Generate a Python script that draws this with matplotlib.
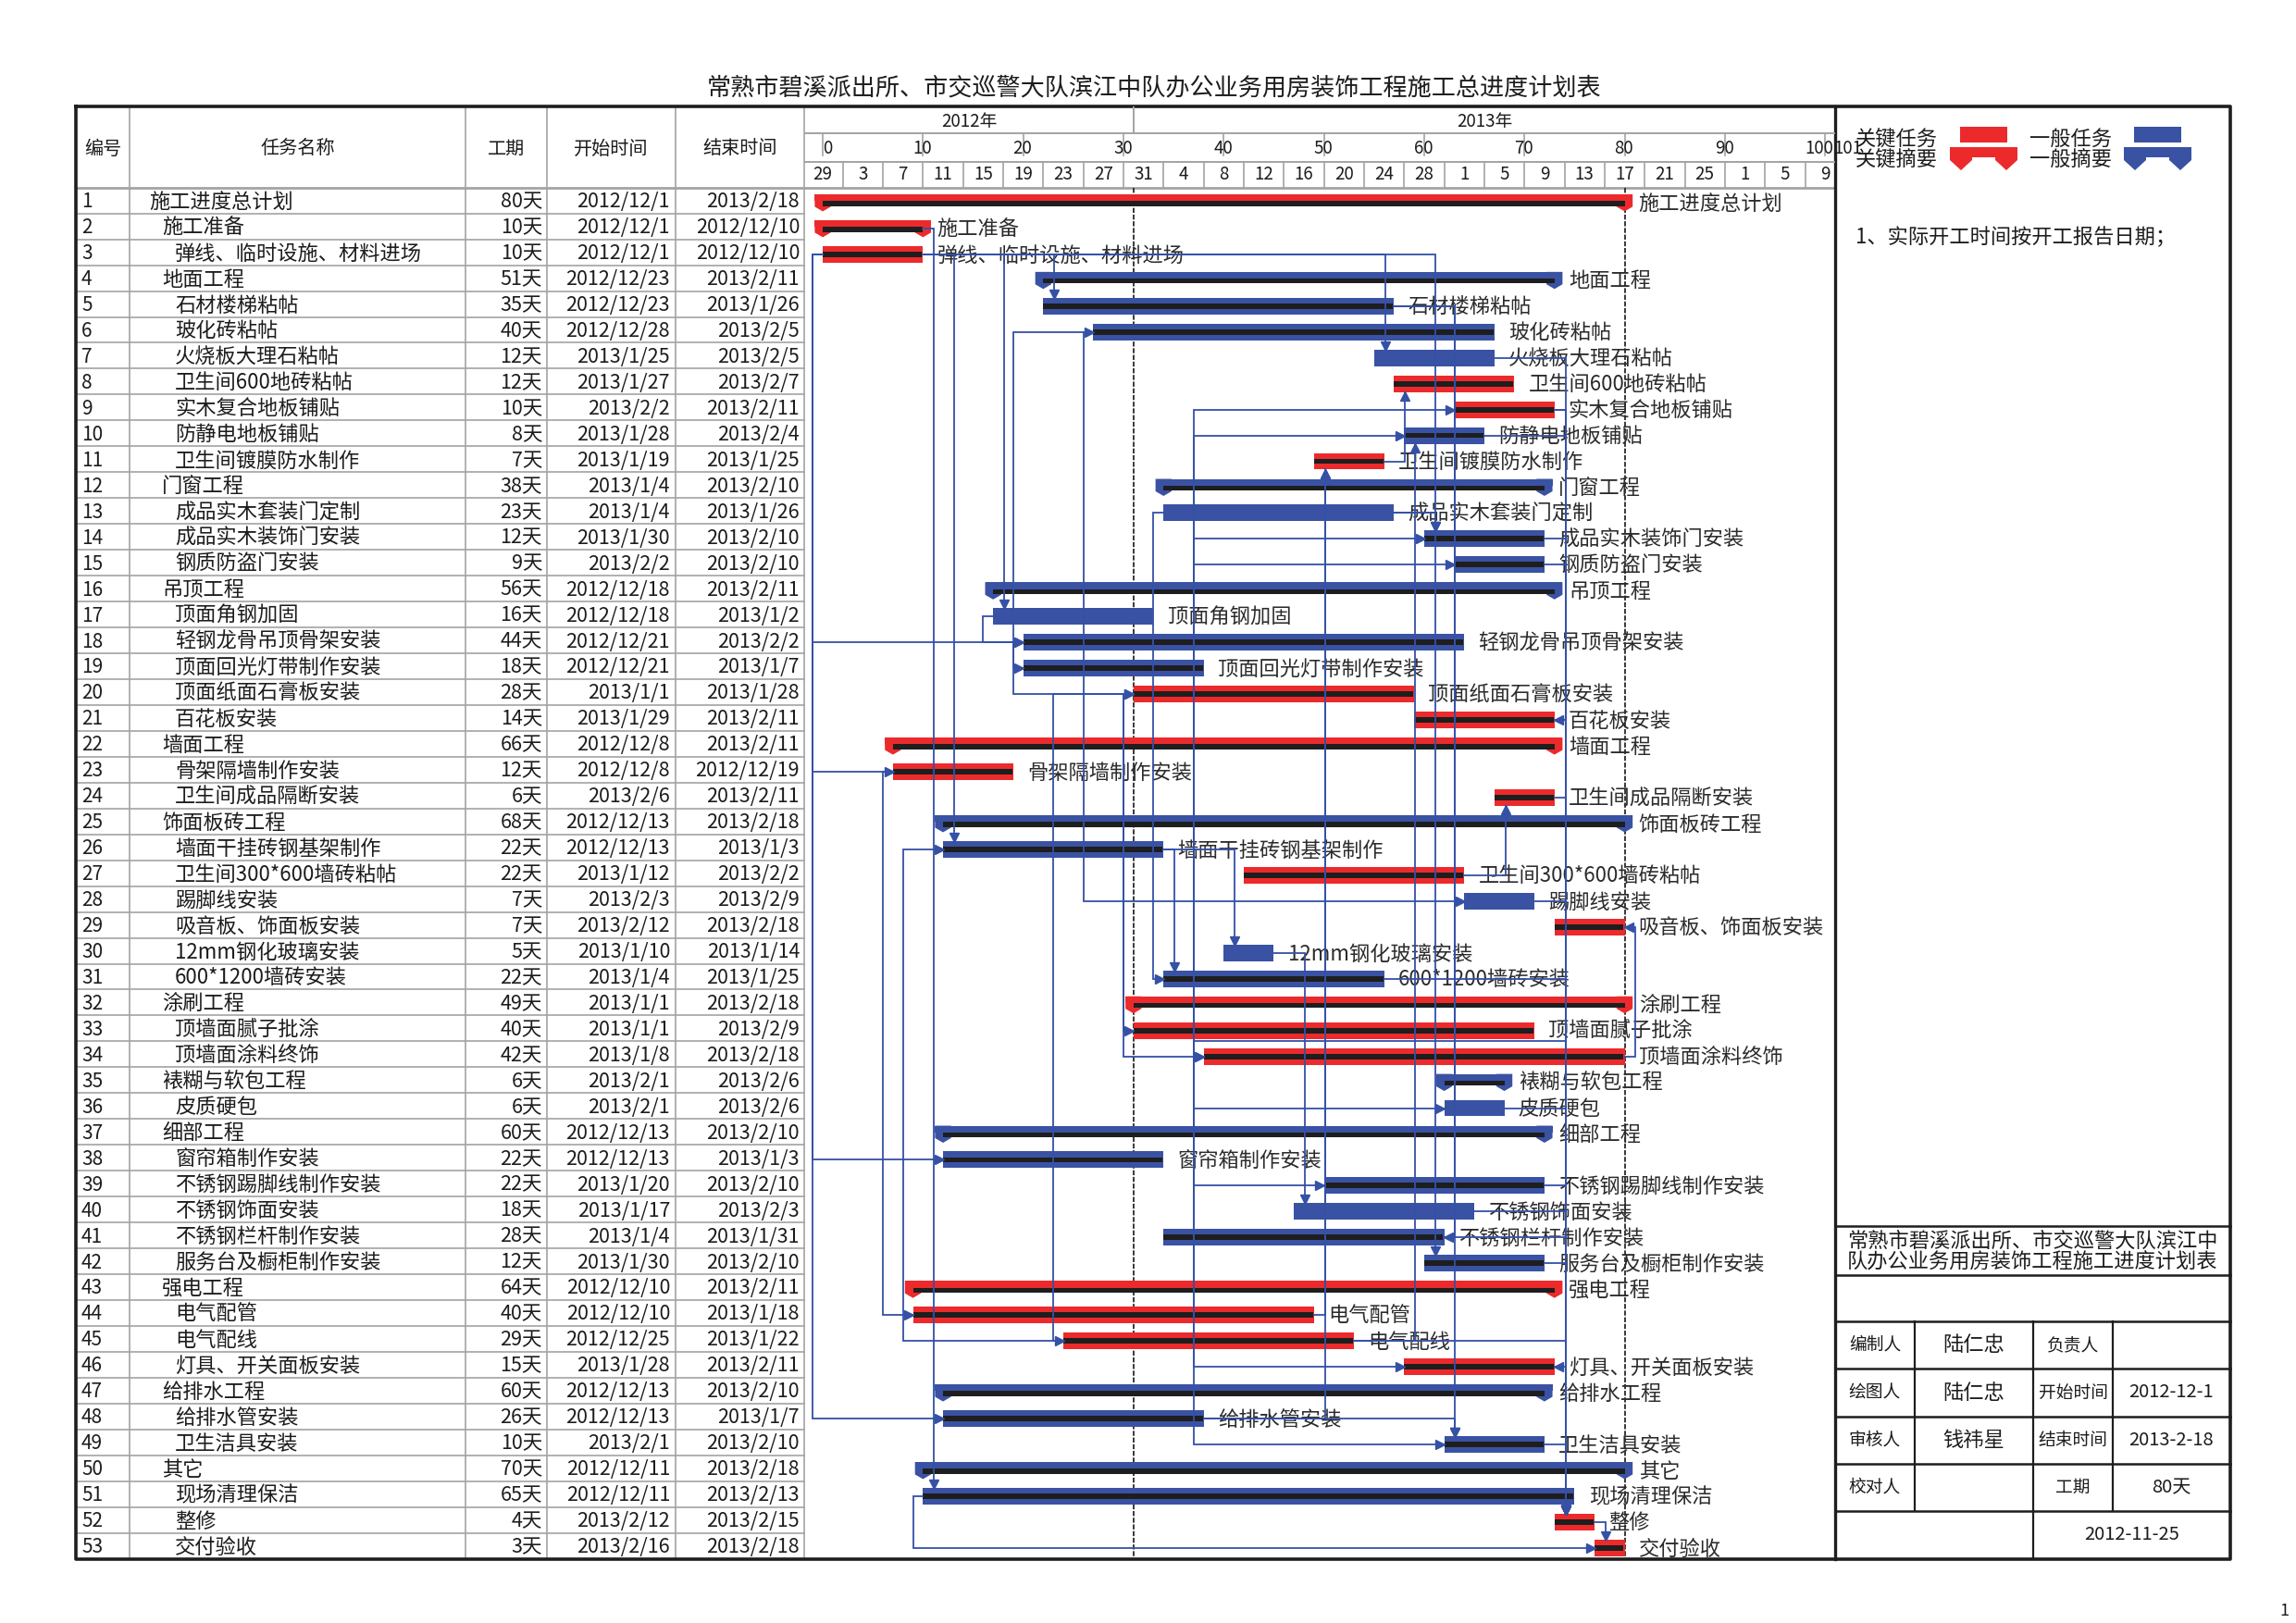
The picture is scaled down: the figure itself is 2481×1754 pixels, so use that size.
import matplotlib
matplotlib.use('Agg')
import matplotlib.pyplot as plt
from matplotlib.patches import Polygon, Rectangle
from datetime import date

plt.rcParams['font.family'] = ['Noto Sans CJK SC', 'DejaVu Sans']

title = '常熟市碧溪派出所、市交巡警大队滨江中队办公业务用房装饰工程施工总进度计划表'
col_heads = ['编号', '任务名称', '工期', '开始时间', '结束时间']

task_names = ['施工进度总计划', '施工准备', '弹线、临时设施、材料进场', '地面工程', '石材楼梯粘帖',
              '玻化砖粘帖', '火烧板大理石粘帖', '卫生间600地砖粘帖', '实木复合地板铺贴', '防静电地板铺贴',
              '卫生间镀膜防水制作', '门窗工程', '成品实木套装门定制', '成品实木装饰门安装', '钢质防盗门安装',
              '吊顶工程', '顶面角钢加固', '轻钢龙骨吊顶骨架安装', '顶面回光灯带制作安装', '顶面纸面石膏板安装',
              '百花板安装', '墙面工程', '骨架隔墙制作安装', '卫生间成品隔断安装', '饰面板砖工程',
              '墙面干挂砖钢基架制作', '卫生间300*600墙砖粘帖', '踢脚线安装', '吸音板、饰面板安装', '12mm钢化玻璃安装',
              '600*1200墙砖安装', '涂刷工程', '顶墙面腻子批涂', '顶墙面涂料终饰', '裱糊与软包工程',
              '皮质硬包', '细部工程', '窗帘箱制作安装', '不锈钢踢脚线制作安装', '不锈钢饰面安装',
              '不锈钢栏杆制作安装', '服务台及橱柜制作安装', '强电工程', '电气配管', '电气配线',
              '灯具、开关面板安装', '给排水工程', '给排水管安装', '卫生洁具安装', '其它',
              '现场清理保洁', '整修', '交付验收']
levels = [0, 1, 2, 1, 2, 2, 2, 2, 2, 2, 2, 1, 2, 2, 2, 1, 2, 2, 2, 2, 2, 1, 2, 2, 1, 2, 2,
          2, 2, 2, 2, 1, 2, 2, 1, 2, 1, 2, 2, 2, 2, 2, 1, 2, 2, 2, 1, 2, 2, 1, 2, 2, 2]
durations = [80, 10, 10, 51, 35, 40, 12, 12, 10, 8, 7, 38, 23, 12, 9, 56, 16, 44, 18, 28, 14,
             66, 12, 6, 68, 22, 22, 7, 7, 5, 22, 49, 40, 42, 6, 6, 60, 22, 22, 18, 28, 12, 64,
             40, 29, 15, 60, 26, 10, 70, 65, 4, 3]
start_dates = ['2012/12/1', '2012/12/1', '2012/12/1', '2012/12/23', '2012/12/23', '2012/12/28',
               '2013/1/25', '2013/1/27', '2013/2/2', '2013/1/28', '2013/1/19', '2013/1/4', '2013/1/4',
               '2013/1/30', '2013/2/2', '2012/12/18', '2012/12/18', '2012/12/21', '2012/12/21',
               '2013/1/1', '2013/1/29', '2012/12/8', '2012/12/8', '2013/2/6', '2012/12/13',
               '2012/12/13', '2013/1/12', '2013/2/3', '2013/2/12', '2013/1/10', '2013/1/4', '2013/1/1',
               '2013/1/1', '2013/1/8', '2013/2/1', '2013/2/1', '2012/12/13', '2012/12/13', '2013/1/20',
               '2013/1/17', '2013/1/4', '2013/1/30', '2012/12/10', '2012/12/10', '2012/12/25',
               '2013/1/28', '2012/12/13', '2012/12/13', '2013/2/1', '2012/12/11', '2012/12/11',
               '2013/2/12', '2013/2/16']
end_dates = ['2013/2/18', '2012/12/10', '2012/12/10', '2013/2/11', '2013/1/26', '2013/2/5',
             '2013/2/5', '2013/2/7', '2013/2/11', '2013/2/4', '2013/1/25', '2013/2/10', '2013/1/26',
             '2013/2/10', '2013/2/10', '2013/2/11', '2013/1/2', '2013/2/2', '2013/1/7', '2013/1/28',
             '2013/2/11', '2013/2/11', '2012/12/19', '2013/2/11', '2013/2/18', '2013/1/3', '2013/2/2',
             '2013/2/9', '2013/2/18', '2013/1/14', '2013/1/25', '2013/2/18', '2013/2/9', '2013/2/18',
             '2013/2/6', '2013/2/6', '2013/2/10', '2013/1/3', '2013/2/10', '2013/2/3', '2013/1/31',
             '2013/2/10', '2013/2/11', '2013/1/18', '2013/1/22', '2013/2/11', '2013/2/10', '2013/1/7',
             '2013/2/10', '2013/2/18', '2013/2/13', '2013/2/15', '2013/2/18']
critical = [1, 1, 1, 0, 0, 0, 0, 1, 1, 0, 1, 0, 0, 0, 0, 0, 0, 0, 0, 1, 1, 1, 1, 1, 0, 0, 1,
            0, 1, 0, 0, 1, 1, 1, 0, 0, 0, 0, 0, 0, 0, 0, 1, 1, 1, 1, 0, 0, 0, 0, 0, 1, 1]
no_stripe = [7, 13, 17, 28, 30, 36, 40]

# links (predecessor, successor), numbered as in the table
ss_links = [(3, 18), (3, 23), (3, 38), (3, 48), (17, 18), (18, 6), (18, 19), (18, 20), (23, 44),
            (44, 26), (44, 45), (45, 20), (6, 28), (13, 31), (20, 33), (20, 34), (34, 9), (34, 10),
            (34, 14), (34, 15), (34, 36), (34, 39), (34, 46), (34, 49), (51, 53)]
fs_links = [(2, 51), (3, 5), (3, 7), (3, 14), (3, 17), (3, 26), (13, 14), (13, 42), (11, 8),
            (44, 11), (45, 10), (48, 11), (48, 49), (5, 49), (26, 30), (26, 31), (30, 40), (27, 24),
            (21, 34), (7, 52), (9, 52), (10, 52), (14, 52), (15, 52), (24, 52), (28, 52), (31, 52),
            (36, 52), (39, 52), (40, 52), (41, 52), (42, 52), (45, 52), (49, 52), (52, 53)]
ff_links = [(9, 21), (9, 46), (5, 41), (34, 29)]

year_labels = ['2012年', '2013年']
num_ticks = [0, 10, 20, 30, 40, 50, 60, 70, 80, 90, 100]
day_labels = ['29', '3', '7', '11', '15', '19', '23', '27', '31', '4', '8', '12', '16', '20',
              '24', '28', '1', '5', '9', '13', '17', '21', '25', '1', '5', '9']

legend_items = [('关键任务', '关键摘要', '#ec2a2c'), ('一般任务', '一般摘要', '#3a52a3')]
note = '1、实际开工时间按开工报告日期；'
box_title = ['常熟市碧溪派出所、市交巡警大队滨江中', '队办公业务用房装饰工程施工进度计划表']
box_rows = [['编制人', '陆仁忠', '负责人', ''],
            ['绘图人', '陆仁忠', '开始时间', '2012-12-1'],
            ['审核人', '钱祎星', '结束时间', '2013-2-18'],
            ['校对人', '', '工期', '80天']]
box_date = '2012-11-25'

RED = '#ec2a2c'
BLUE = '#3a52a3'
LINK = '#3451a6'
BLK = '#1e1e1e'
GRID = '#a3a3a3'
TXT = '#1c1c1c'


def to_day(s):
    y, m, d = [int(v) for v in s.split('/')]
    return (date(y, m, d) - date(2012, 12, 1)).days


starts = [to_day(s) for s in start_dates]
ends = [to_day(s) + 1 for s in end_dates]
n = len(task_names)

W, H = 2481, 1754
fig = plt.figure(figsize=(W / 100, H / 100), dpi=100)
page = fig.add_axes([0, 0, 1, 1])
page.set_xlim(0, W)
page.set_ylim(H, 0)
page.axis('off')

# layout in pixels
L, R, TOP = 82, 2410, 115
HB = 202.7
RH = 27.96
BOT = HB + n * RH
cols = [82, 140, 503, 591, 730, 869]
CR = 1983
x_lo, x_hi = -1.85, 101.0


def rect(x0, y0, x1, y1):
    return [x0 / W, 1 - y1 / H, (x1 - x0) / W, (y1 - y0) / H]


def row_y(i):
    return HB + (i - 0.5) * RH


# title
page.text(1247, 95, title, fontsize=18.8, ha='center', va='center', color=TXT)

# table grid
for k in range(1, n):
    page.plot([L, cols[-1]], [HB + k * RH] * 2, color=GRID, lw=1.2, zorder=1)
page.plot([L, CR], [HB, HB], color=GRID, lw=2.0, zorder=1)
for x in cols[1:]:
    page.plot([x, x], [TOP, BOT], color=GRID, lw=1.2, zorder=1)

# header labels
for j, h in enumerate(col_heads):
    page.text((cols[j] + cols[j + 1]) / 2, 161, h, fontsize=14.5, ha='center', va='center', color=TXT)

# table body
for i in range(n):
    y = row_y(i + 1) + 1.5
    page.text(88, y, str(i + 1), fontsize=15, ha='left', va='center', color=TXT)
    page.text(161 + levels[i] * 14, y, task_names[i], fontsize=16, ha='left', va='center', color=TXT)
    page.text(586, y, f'{durations[i]}天', fontsize=15.5, ha='right', va='center', color=TXT)
    page.text(724, y, start_dates[i], fontsize=15.5, ha='right', va='center', color=TXT)
    page.text(864, y, end_dates[i], fontsize=15.5, ha='right', va='center', color=TXT)

# outer border and panel divider
page.plot([L, R, R, L, L], [TOP, TOP, BOT, BOT, TOP], color=BLK, lw=2.6, zorder=5)
page.plot([CR, CR], [TOP, BOT], color=BLK, lw=2.4, zorder=5)

# ---- time scale header ----
head = fig.add_axes(rect(cols[-1], TOP, CR, HB), zorder=2)
head.set_xlim(x_lo, x_hi)
head.set_ylim(HB, TOP)
head.axis('off')
year_split = (date(2013, 1, 1) - date(2012, 12, 1)).days
head.plot([x_lo, x_hi], [144, 144], color=GRID, lw=1.4)
head.plot([x_lo, x_hi], [175, 175], color=GRID, lw=1.4)
head.plot([year_split, year_split], [TOP, 144], color=GRID, lw=1.4)
for lab, (a, b) in zip(year_labels, [(x_lo, year_split), (year_split, x_hi)]):
    head.text((a + b) / 2, 131, lab, fontsize=13.5, ha='center', va='center', color=TXT)
for t in num_ticks:
    head.plot([t, t], [144, 168], color=GRID, lw=1.2)
    digits = len(str(t))
    head.annotate(str(t), (t, 160), xytext=(-(digits - 1) * 7.9, 0), textcoords='offset points',
                  fontsize=13.5, ha='left', va='center', color=TXT)
head.annotate(str(num_ticks[-1] + 1), (x_hi, 160), xytext=(-1, 0), textcoords='offset points',
              fontsize=13.5, ha='left', va='center', color=TXT, annotation_clip=False)
for k, lab in enumerate(day_labels):
    a = -2 + 4 * k
    if a > x_lo:
        head.plot([a, a], [175, HB], color=GRID, lw=1.2)
    head.text(a + 2, 189, lab, fontsize=13.5, ha='center', va='center', color=TXT, clip_on=True)

# ---- gantt area ----
gantt = fig.add_axes(rect(cols[-1], HB, CR, BOT), zorder=3)
gantt.set_xlim(x_lo, x_hi)
gantt.set_ylim(n + 0.5, 0.5)
gantt.axis('off')

finish = ends[0]
for d in (year_split, finish):
    gantt.plot([d, d], [0.5, n + 0.5], color='#2a2a2a', lw=1.3, ls=(0, (3, 1)), zorder=1)

cap = 0.8
for i in range(n):
    r = i + 1
    col = RED if critical[i] else BLUE
    s, e = starts[i], ends[i]
    if levels[i] < 2:
        gantt.barh(r - 0.11, e - s + 2 * cap, left=s - cap, height=0.26, color=col, lw=0, zorder=2)
        for c in (s, e):
            gantt.add_patch(Polygon([(c - cap, r - 0.24), (c + cap, r - 0.24), (c + cap, r + 0.24),
                                     (c, r + 0.42), (c - cap, r + 0.24)], closed=True,
                                    facecolor=col, lw=0, zorder=2))
        gantt.barh(r + 0.115, e - s, left=s, height=0.19, color=BLK, lw=0, zorder=3)
    else:
        gantt.barh(r + 0.08, e - s, left=s, height=0.64, color=col, lw=0, zorder=2)
        if r not in no_stripe:
            gantt.barh(r + 0.08, e - s - 0.1, left=s, height=0.21, color=BLK, lw=0, zorder=3)
    gantt.text(e + 1.4, r + 0.12, task_names[i], fontsize=16, ha='left', va='center',
               color='#2b2b2b', clip_on=False, zorder=3)

# ---- link lines ----
off = 1.1
ax_half = 0.4
ay_half = 0.15


def line(xs, ys):
    gantt.plot(xs, ys, color=LINK, lw=1.3, zorder=4, solid_joinstyle='miter', clip_on=False)


def arrow(x, y, m):
    gantt.plot([x], [y], marker=m, ms=7.5, color=LINK, mec=LINK, zorder=5, clip_on=False)


for p, s in fs_links:
    yp, ys = p + 0.08, s + 0.08
    ep, ss_ = ends[p - 1], starts[s - 1]
    if ss_ >= ep:
        xa = ss_ + off
        if s > p:
            tip = s - 0.24
            line([ep, xa, xa], [yp, yp, tip])
            arrow(xa, tip - ay_half, 'v')
        else:
            tip = s + 0.40
            line([ep, xa, xa], [yp, yp, tip])
            arrow(xa, tip + ay_half, '^')
    else:
        xa = ep + off
        xb = ss_ - 1.0
        yb = s - 0.5 if s > p else s + 0.5
        line([ep, xa, xa, xb, xb, ss_], [yp, yp, yb, yb, ys, ys])
        arrow(ss_ - ax_half, ys, '>')

for p, s in ss_links:
    yp, ys = p + 0.08, s + 0.08
    sp, ss_ = starts[p - 1], starts[s - 1]
    xv = sp - 1.0
    line([sp, xv, xv, ss_], [yp, yp, ys, ys])
    arrow(ss_ - ax_half, ys, '>')

for p, s in ff_links:
    yp, ys = p + 0.08, s + 0.08
    ep, es = ends[p - 1], ends[s - 1]
    xv = max(ep, es) + off
    line([ep, xv, xv, es], [yp, yp, ys, ys])
    arrow(es + ax_half, ys, '<')

# ---- right panel ----
lx = 2005
for k, (t1, t2, c) in enumerate(legend_items):
    x0 = lx + k * 188
    page.text(x0, 150, t1, fontsize=16, ha='left', va='center', color=TXT)
    page.text(x0, 172, t2, fontsize=16, ha='left', va='center', color=TXT)
    rx = x0 + 113
    page.add_patch(Rectangle((rx, 137), 51, 17, facecolor=c, lw=0))
    sx0, sx1 = rx - 11, rx + 62
    page.add_patch(Rectangle((sx0, 159), sx1 - sx0, 11, facecolor=c, lw=0))
    for cx in (sx0 + 12, sx1 - 12):
        page.add_patch(Polygon([(cx - 12, 159), (cx + 12, 159), (cx + 12, 173), (cx, 184),
                                (cx - 12, 173)], closed=True, facecolor=c, lw=0))
page.text(lx, 257, note, fontsize=16, ha='left', va='center', color=TXT)

bx = [CR, 2069, 2197, 2283, R]
by = [1325, 1378, 1428, 1479, 1531, 1582, 1633, BOT]
for yy in by[:-1]:
    page.plot([CR, R], [yy, yy], color=BLK, lw=1.8, zorder=5)
for yy, t in zip([1341, 1364], box_title):
    page.text((CR + R) / 2, yy, t, fontsize=16, ha='center', va='center', color=TXT)
for x in bx[1:4]:
    page.plot([x, x], [by[2], by[6]], color=BLK, lw=1.6, zorder=5)
page.plot([bx[2], bx[2]], [by[6], BOT], color=BLK, lw=1.6, zorder=5)
sizes = [13.5, 16, 13.5, 14.5]
for j, rowvals in enumerate(box_rows):
    yc = (by[2 + j] + by[3 + j]) / 2
    for k, v in enumerate(rowvals):
        page.text((bx[k] + bx[k + 1]) / 2, yc, v, fontsize=sizes[k], ha='center', va='center',
                  color=TXT)
page.text((bx[2] + R) / 2, (by[6] + BOT) / 2, box_date, fontsize=14.5, ha='center', va='center',
          color=TXT)
page.text(2468, 1741, '1', fontsize=13, ha='center', va='center', color=TXT)

fig.savefig('out.png', dpi=100)
